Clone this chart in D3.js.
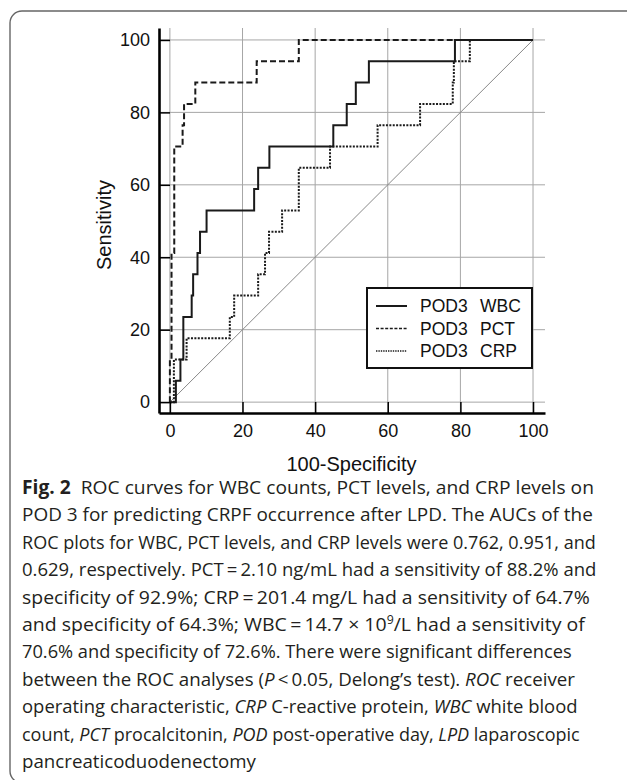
<!DOCTYPE html>
<html>
<head>
<meta charset="utf-8">
<script src="https://cdn.jsdelivr.net/npm/d3@7"></script>
<style>
  body { margin: 0; background: #fff; }
  svg { display: block; }
</style>
</head>
<body>
<div id="chart"></div>
<script>
// ROC step points: at each fpr the curve rises to the tpr
var wbcFpr = [0, 1.65, 2.9, 3.7, 6.0, 6.4, 7.6, 8.3, 10.1, 23.2, 24.3, 27.4, 45.0, 48.7, 51.2, 54.8, 78.5, 100];
var wbcTpr = [0, 5.88, 11.76, 23.53, 29.41, 35.29, 41.18, 47.06, 52.94, 58.82, 64.71, 70.59, 76.47, 82.35, 88.24, 94.12, 100, 100];

var pctFpr = [0, 0, 0.45, 1.2, 3.5, 3.9, 7.0, 23.9, 35.5, 100];
var pctTpr = [0, 11.76, 41.18, 70.59, 76.47, 82.35, 88.24, 94.12, 100, 100];

var crpFpr = [0, 1.1, 4.6, 16.5, 17.7, 24.3, 26.2, 27.3, 30.9, 35.5, 44.1, 57.2, 68.9, 77.9, 78.2, 82.6, 100];
var crpTpr = [0, 11.76, 17.65, 23.53, 29.41, 35.29, 41.18, 47.06, 52.94, 64.71, 70.59, 76.47, 82.35, 88.24, 94.12, 100, 100];

var majorTicks = [0, 20, 40, 60, 80, 100];
var minorTicks = d3.range(0, 101, 5);

var seriesNames = ["WBC", "PCT", "CRP"];
var legendPrefix = "POD3";

// caption lines, each a list of [text, style]
var captionLines = [
  [["Fig. 2", "b"], ["  ROC curves for WBC counts, PCT levels, and CRP levels on", ""]],
  [["POD 3 for predicting CRPF occurrence after LPD. The AUCs of the", ""]],
  [["ROC plots for WBC, PCT levels, and CRP levels were 0.762, 0.951, and", ""]],
  [["0.629, respectively. PCT\u2009=\u20092.10 ng/mL had a sensitivity of 88.2% and", ""]],
  [["specificity of 92.9%; CRP\u2009=\u2009201.4 mg/L had a sensitivity of 64.7%", ""]],
  [["and specificity of 64.3%; WBC\u2009=\u200914.7 \u00d7 10", ""], ["9", "sup"], ["/L had a sensitivity of", ""]],
  [["70.6% and specificity of 72.6%. There were significant differences", ""]],
  [["between the ROC analyses (", ""], ["P", "i"], ["\u2009<\u20090.05, Delong\u2019s test). ", ""], ["ROC", "i"], [" receiver", ""]],
  [["operating characteristic, ", ""], ["CRP", "i"], [" C-reactive protein, ", ""], ["WBC", "i"], [" white blood", ""]],
  [["count, ", ""], ["PCT", "i"], [" procalcitonin, ", ""], ["POD", "i"], [" post-operative day, ", ""], ["LPD", "i"], [" laparoscopic", ""]],
  [["pancreaticoduodenectomy", ""]]
];
// right end of each caption line (null = same squeeze as the others)
var captionEnds = [594, 593, 596, 597, 590, 585, 572, 575, 578, 580, null];

var width = 627;
var height = 780;

var svg = d3.select("#chart")
            .append("svg")
            .attr("width", width)
            .attr("height", height);

// outer frame
svg.append("rect")
   .attr("x", 10)
   .attr("y", 11)
   .attr("width", 628)
   .attr("height", 772)
   .attr("rx", 12)
   .attr("fill", "none")
   .attr("stroke", "#666")
   .attr("stroke-width", 1.4);

var x = d3.scaleLinear().domain([-3, 103.3]).range([159, 545]);
var y = d3.scaleLinear().domain([-3, 103.3]).range([413, 28]);

// griglia
var grid = svg.append("g")
              .attr("stroke", "#a6a6a6")
              .attr("stroke-width", 1);

grid.selectAll(".gx")
    .data(majorTicks)
    .enter()
    .append("line")
    .attr("x1", function(d) { return x(d); })
    .attr("x2", function(d) { return x(d); })
    .attr("y1", y.range()[0])
    .attr("y2", y.range()[1]);

grid.selectAll(".gy")
    .data(majorTicks)
    .enter()
    .append("line")
    .attr("x1", x.range()[0])
    .attr("x2", x.range()[1])
    .attr("y1", function(d) { return y(d); })
    .attr("y2", function(d) { return y(d); });

// diagonal reference
svg.append("line")
   .attr("x1", x(0)).attr("y1", y(0))
   .attr("x2", x(100)).attr("y2", y(100))
   .attr("stroke", "#888")
   .attr("stroke-width", 1);

// curves
var line = d3.line()
             .x(function(d) { return x(d[0]); })
             .y(function(d) { return y(d[1]); })
             .curve(d3.curveStepAfter);

var styles = {
  WBC: { dash: null },
  PCT: { dash: "6,3" },
  CRP: { dash: "2,1.4" }
};

var series = [
  { name: "WBC", pts: d3.zip(wbcFpr, wbcTpr) },
  { name: "PCT", pts: d3.zip(pctFpr, pctTpr) },
  { name: "CRP", pts: d3.zip(crpFpr, crpTpr) }
];

svg.append("g")
   .selectAll("path")
   .data(series)
   .enter()
   .append("path")
   .attr("d", function(d) { return line(d.pts); })
   .attr("fill", "none")
   .attr("stroke", "#1a1a1a")
   .attr("stroke-width", 2)
   .attr("stroke-dasharray", function(d) { return styles[d.name].dash; });

// assi
var axisFont = "Liberation Sans, Arial, sans-serif";

var gx = svg.append("g").attr("transform", "translate(0,413)");
gx.call(d3.axisBottom(x).tickValues(minorTicks).tickSize(-5).tickSizeOuter(0).tickFormat(""));
gx.call(d3.axisBottom(x).tickValues(majorTicks).tickSize(-11).tickSizeOuter(0).tickPadding(11));

var gy = svg.append("g").attr("transform", "translate(159,0)");
gy.call(d3.axisLeft(y).tickValues(minorTicks).tickSize(-5).tickSizeOuter(0).tickFormat(""));
gy.call(d3.axisLeft(y).tickValues(majorTicks).tickSize(-11).tickSizeOuter(0).tickPadding(9));

[gx, gy].forEach(function(g) {
  g.selectAll(".domain").attr("stroke", "#000").attr("stroke-width", 2.6);
  g.selectAll(".tick line").attr("stroke", "#000").attr("stroke-width", 1.5);
  g.selectAll("text")
   .attr("fill", "#111")
   .style("font-family", axisFont)
   .style("font-size", "18px");
});

svg.append("text")
   .attr("x", (x(0) + x(100)) / 2)
   .attr("y", 471)
   .attr("text-anchor", "middle")
   .style("font-family", axisFont)
   .style("font-size", "20px")
   .attr("fill", "#111")
   .text("100-Specificity");

svg.append("text")
   .attr("transform", "translate(111," + ((y(0) + y(100)) / 2 + 4) + ") rotate(-90)")
   .attr("text-anchor", "middle")
   .style("font-family", axisFont)
   .style("font-size", "20px")
   .attr("fill", "#111")
   .text("Sensitivity");

// legenda
var legend = svg.append("g");
legend.append("rect")
      .attr("x", 367)
      .attr("y", 288)
      .attr("width", 165)
      .attr("height", 80)
      .attr("fill", "#fff")
      .attr("stroke", "#111")
      .attr("stroke-width", 2);

var rows = legend.selectAll(".row")
                 .data(seriesNames)
                 .enter()
                 .append("g")
                 .attr("transform", function(d, i) { return "translate(0," + (306 + i * 22.5) + ")"; });

rows.append("line")
    .attr("x1", 376)
    .attr("x2", 407)
    .attr("stroke", "#1a1a1a")
    .attr("stroke-width", function(d) { return d === "WBC" ? 2 : 1.5; })
    .attr("stroke-dasharray", function(d) { return d === "CRP" ? "1.4,1" : d === "PCT" ? "3,1.6" : null; });

rows.append("text")
    .attr("x", 420)
    .attr("dy", "0.36em")
    .style("font-family", axisFont)
    .style("font-size", "17.5px")
    .attr("fill", "#111")
    .text(legendPrefix);

rows.append("text")
    .attr("x", 480)
    .attr("dy", "0.36em")
    .style("font-family", axisFont)
    .style("font-size", "17.5px")
    .attr("fill", "#111")
    .text(function(d) { return d; });

// didascalia: ogni riga viene misurata e poi stretta in orizzontale fino alla sua fine
var cap = svg.append("g")
             .style("font-family", "'Open Sans', 'Noto Sans', sans-serif")
             .style("font-size", "19px")
             .attr("fill", "#231f20");

var scales = [];
captionLines.forEach(function(segs, i) {
  var t = cap.append("text")
             .attr("x", 0)
             .attr("y", 0)
             .style("white-space", "pre");
  segs.forEach(function(s) {
    var sp = t.append("tspan").text(s[0]);
    if (s[1] === "b") sp.style("font-weight", "bold");
    if (s[1] === "i") sp.style("font-style", "italic");
    if (s[1] === "sup") sp.attr("dy", -7).style("font-size", "12px");
    else if (s[1] === "" && i === 5 && s[0].charAt(0) === "/") sp.attr("dy", 7);
  });
  var w = t.node().getComputedTextLength();
  var sx = captionEnds[i] == null ? d3.mean(scales) : (captionEnds[i] - 22) / w;
  scales.push(sx);
  t.attr("transform", "translate(22," + (494 + i * 27.4) + ") scale(" + sx + ",1)");
});
</script>
</body>
</html>
